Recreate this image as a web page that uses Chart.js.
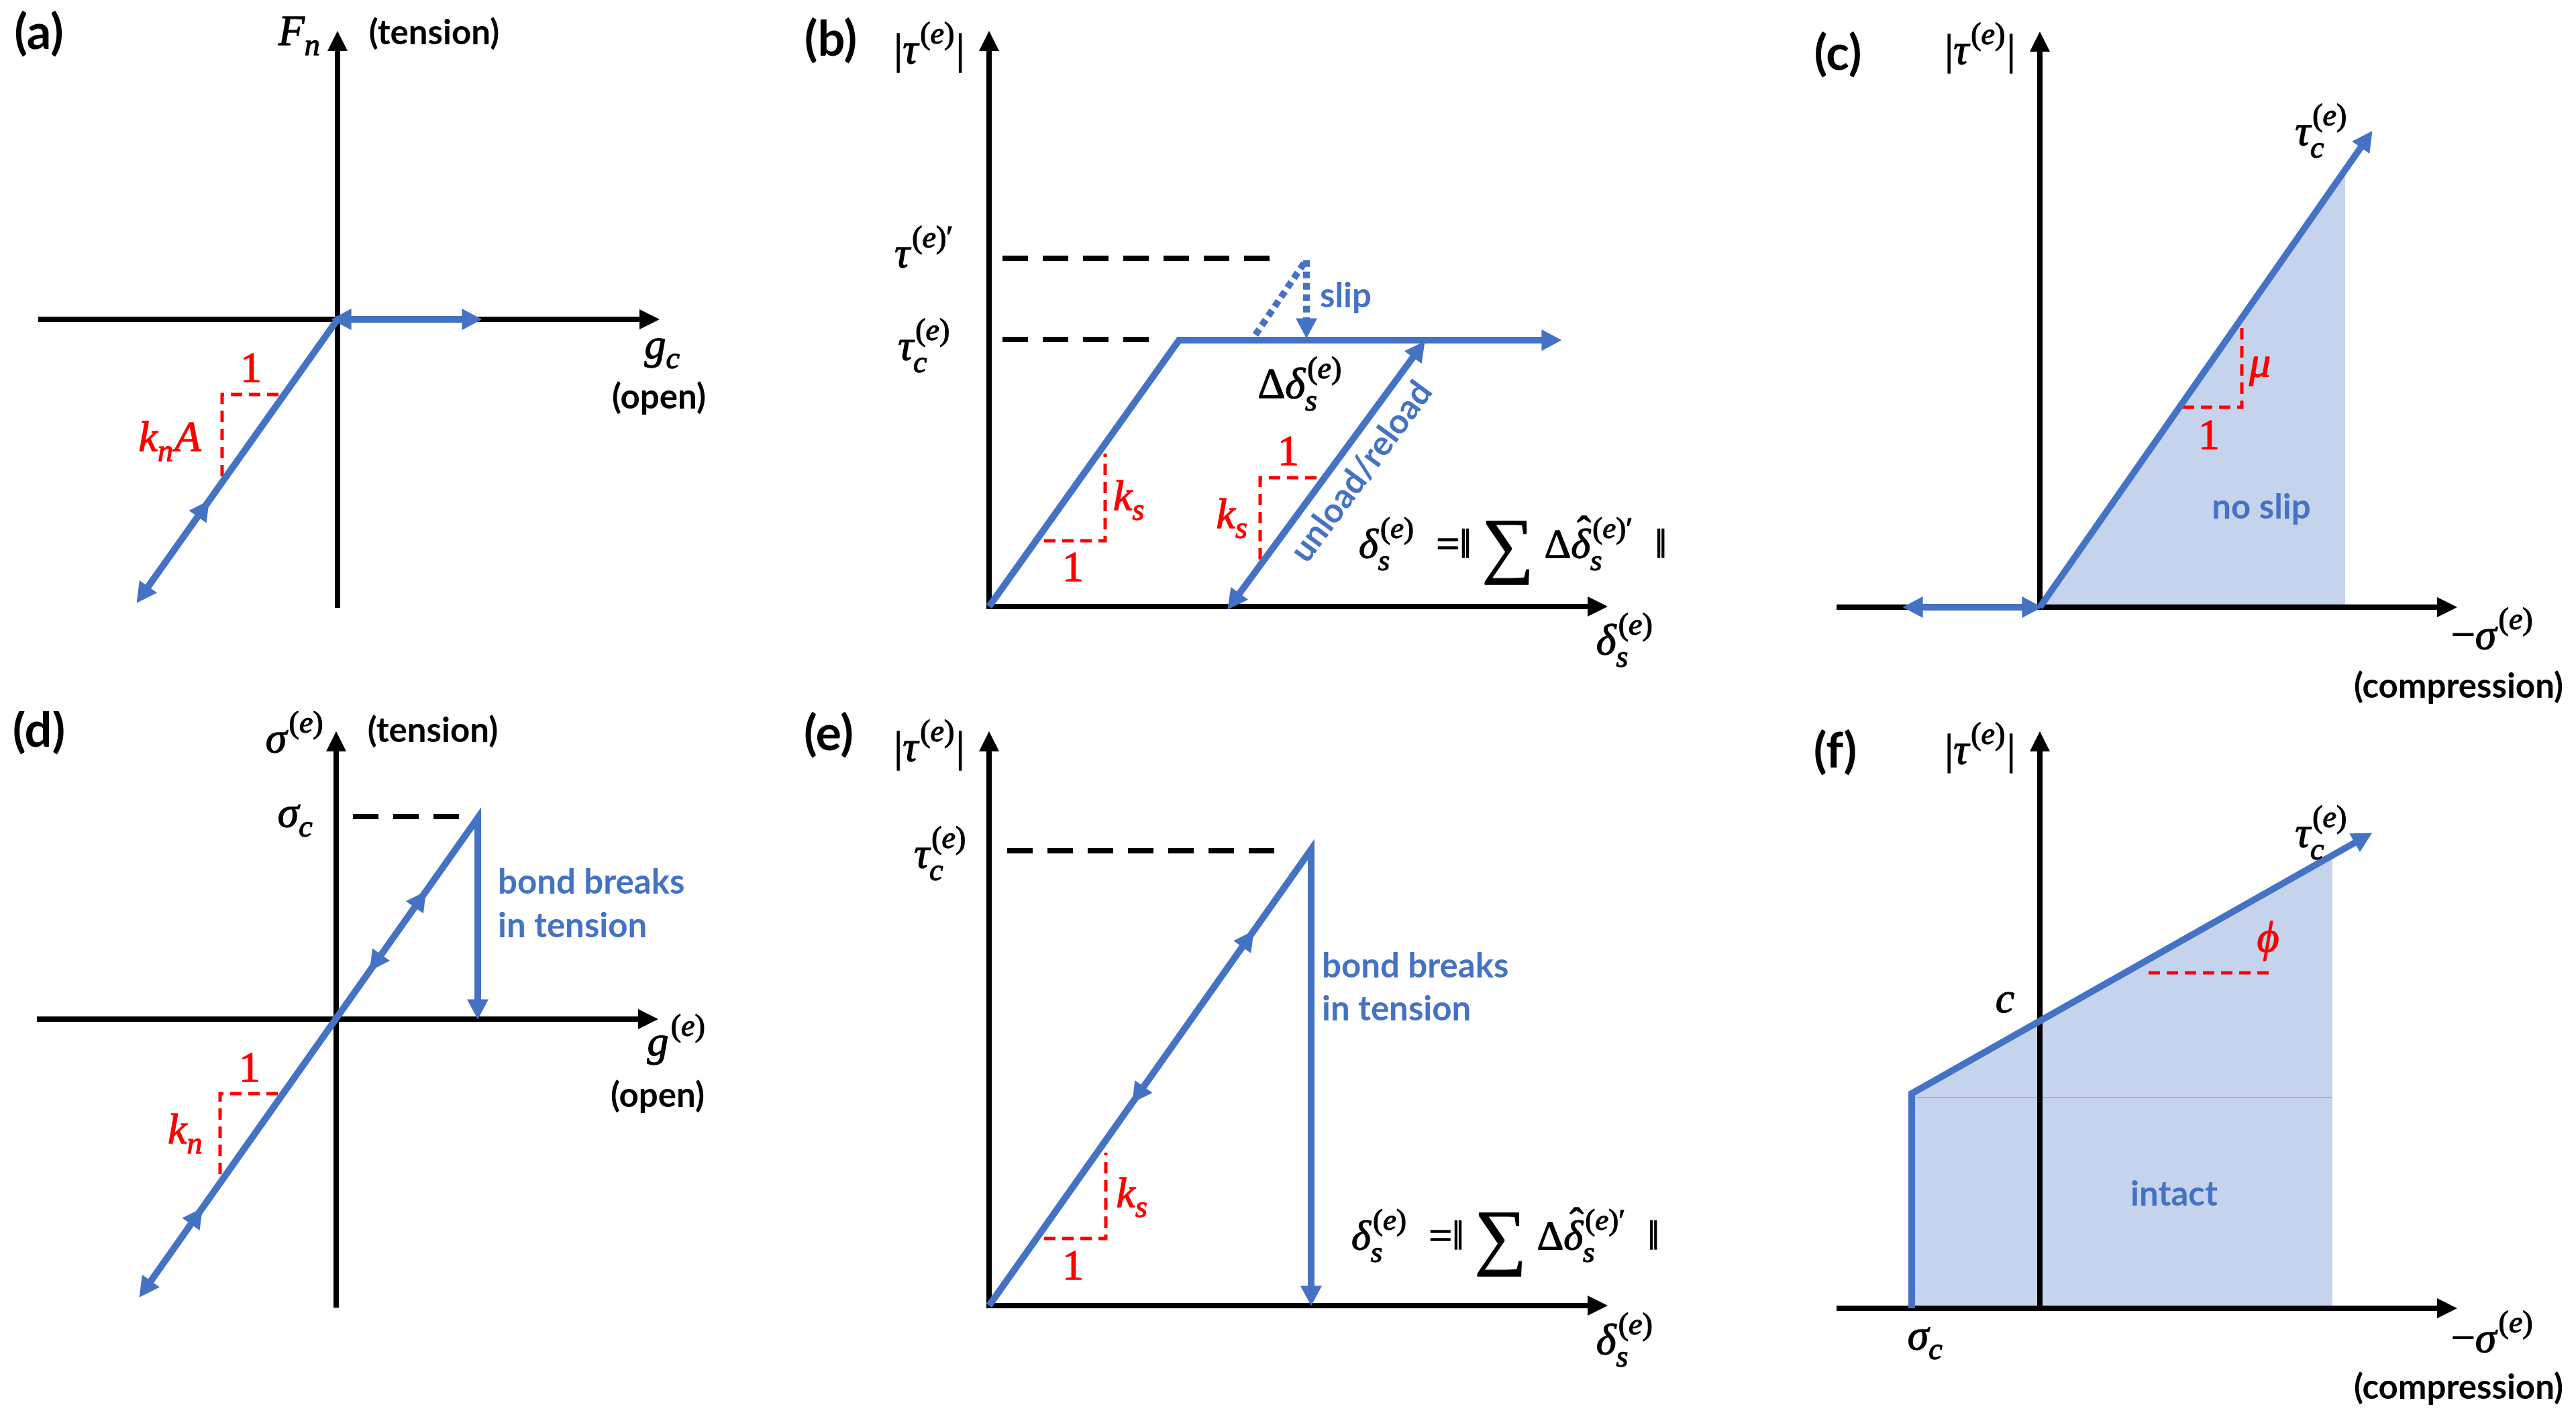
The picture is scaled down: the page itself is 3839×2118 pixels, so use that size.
<!DOCTYPE html>
<html>
<head>
<meta charset="utf-8">
<script src="https://cdn.jsdelivr.net/npm/chart.js@4.4.1/dist/chart.umd.min.js"></script>
<style>
html, body { margin: 0; padding: 0; background: #fff; }
#page { position: relative; width: 3839px; height: 2118px; overflow: hidden; background: #fff; }
#page canvas { position: absolute; }
</style>
</head>
<body>
<div id="page"></div>
<script>
const BLUE = "#4472C4", RED = "#FF0000", FILL = "#C6D3EC";
const SERIF = '"Liberation Serif", "DejaVu Serif", serif';
const TAG = "bold 72px Lato, sans-serif";
const NOTE = "bold 51px Lato, sans-serif";
const FORMULA = "δ_s^{(e)}  =‖ ∑ Δδ\u0302_s^{(e)′}  ‖";

// (a) contact force F_n against gap g_c  (units: px from the origin, y up)
const aXAxis = [[-446, 0], [472, 0]];
const aYAxis = [[0, -430], [0, 422]];
const aPath = [[-294, -415], [0, 0], [206, 0]];
const aSlope = [[-88, -112], [-172, -112], [-172, -241]];

// (b) shear with slip
const bAxes = [[914, 0], [0, 0], [0, 850]];
const bLoad = [[0, 0], [283, 397], [844, 397]];
const bUnload = [[361, 3], [644, 388]];
const bPeakLine = [[20, 519], [430, 519]];
const bCritLine = [[20, 398], [247, 398]];
const bSlip = [[397, 405], [473, 517], [473, 409]];
const bSlope1 = [[82, 98], [173, 98], [173, 228]];
const bSlope2 = [[488, 192], [404, 192], [404, 64]];

// (c) Coulomb envelope
const cXAxis = [[-303, 0], [614, 0]];
const cYAxis = [[0, 0], [0, 850]];
const cEnvelope = [[0, 0], [490, 702]];
const cNoSlip = [[0, 0], [455, 652]];
const cOpen = [[-195, 0], [-6, 0]];
const cSlope = [[213, 298], [301, 298], [301, 425]];

// (d) normal bond
const dXAxis = [[-446, 0], [472, 0]];
const dYAxis = [[0, -430], [0, 421]];
const dPath = [[-288, -407], [211, 300], [211, 9]];
const dCritLine = [[25, 302], [183, 302]];
const dSlope = [[-87, -111], [-173, -111], [-173, -239]];

// (e) shear bond
const eAxes = [[914, 0], [0, 0], [0, 848]];
const ePath = [[0, 0], [480, 680], [480, 9]];
const eCritLine = [[27, 678], [444, 678]];
const eSlope = [[82, 100], [174, 100], [174, 228]];

// (f) Mohr-Coulomb with tension cut-off
const fXAxis = [[-303, 0], [614, 0]];
const fYAxis = [[0, 0], [0, 852]];
const fEnvelope = [[-191, 0], [-191, 320], [487, 704]];
const fIntact = [[-191, 320], [436, 675]];
const fSeam = [[-191, 314], [436, 314]];
const fSlope = [[162, 500], [342, 500]];

const pts = arr => arr.map(([x, y]) => ({ x, y }));
const line = (arr, color, width, extra) => Object.assign({
    data: pts(arr), showLine: true, borderColor: color, borderWidth: width,
    pointRadius: 0, fill: false, tension: 0, borderJoinStyle: "miter", borderCapStyle: "butt"
}, extra);
const axis = arr => line(arr, "#000", 8, { order: 5 });
const curve = arr => line(arr, BLUE, 10, { order: 1 });
const dashed = arr => line(arr, "#000", 8, { borderDash: [38, 22], order: 4 });
const slope = arr => line(arr, RED, 5, { borderDash: [17, 10], order: 3 });
const dotted = arr => line(arr, BLUE, 10, { borderDash: [10, 7], order: 2 });
const region = arr => line(arr, "rgba(0,0,0,0)", 0, { fill: "origin", backgroundColor: FILL, order: 9 });

// ---- math text helpers
function glyphFont(ch, size) {
    return (/[A-Za-z\u03b1-\u03c9\u03d5]/.test(ch) ? "italic " : "") + size + "px " + SERIF;
}
function runWidth(ctx, s, size) {
    let w = 0;
    for (const ch of s) { ctx.font = glyphFont(ch, size); w += ctx.measureText(ch).width; }
    return w;
}
function mathLayout(ctx, str, size) {
    const ops = [];
    let x = 0, i = 0, prev = { x: 0, w: 0 };
    const grab = () => {
        if (str[i] === "{") { const j = str.indexOf("}", i); const g = str.slice(i + 1, j); i = j + 1; return g; }
        return str[i++];
    };
    while (i < str.length) {
        const ch = str[i];
        if (ch === "_" || ch === "^") {
            let sub = "", sup = "";
            while (str[i] === "_" || str[i] === "^") {
                const k = str[i++]; const g = grab();
                if (k === "_") sub = g; else sup = g;
            }
            const s2 = Math.round(size * 0.72);
            let w = 0;
            if (sub) { ops.push({ run: sub, x: x, dy: size * (sup ? 0.3 : 0.24), size: s2 }); w = runWidth(ctx, sub, s2); }
            if (sup) {
                const off = size * 0.05;
                ops.push({ run: sup, x: x + off, dy: -size * 0.46, size: s2 });
                w = Math.max(w, off + runWidth(ctx, sup, s2));
            }
            x += w + size * 0.04;
        } else if (ch === "\u0302") {
            ctx.font = size + "px " + SERIF;
            const hw = ctx.measureText("ˆ").width;
            ops.push({ run: "ˆ", x: prev.x + prev.w / 2 + size * 0.08 - hw / 2, dy: -size * 0.3, size: size });
            i++;
        } else if (ch === "∑") {
            const big = Math.round(size * 1.75);
            ctx.font = big + "px " + SERIF;
            const w = ctx.measureText("∑").width;
            ops.push({ run: "∑", x: x, dy: size * 0.28, size: big });
            x += w; i++;
        } else {
            const w = runWidth(ctx, ch, size);
            ops.push({ run: ch, x: x, dy: 0, size: size });
            prev = { x: x, w: w };
            x += w; i++;
        }
    }
    return { ops: ops, width: x };
}
function drawOp(ctx, op, x0, y) {
    let x = x0 + op.x;
    for (const ch of op.run) {
        ctx.font = glyphFont(ch, op.size);
        ctx.fillText(ch, x, y + op.dy);
        ctx.strokeText(ch, x, y + op.dy);
        x += ctx.measureText(ch).width;
    }
}

function arrowHead(ctx, tip, u, color, L, W) {
    const nx = -u[1], ny = u[0];
    ctx.beginPath();
    ctx.moveTo(tip[0], tip[1]);
    ctx.lineTo(tip[0] - u[0] * L + nx * W / 2, tip[1] - u[1] * L + ny * W / 2);
    ctx.lineTo(tip[0] - u[0] * L - nx * W / 2, tip[1] - u[1] * L - ny * W / 2);
    ctx.closePath();
    ctx.fillStyle = color;
    ctx.fill();
}

function sketchPlugin(spec) {
    return {
        id: "sketch",
        afterDatasetsDraw(chart) {
            const ctx = chart.ctx, sx = chart.scales.x, sy = chart.scales.y;
            const px = p => [sx.getPixelForValue(p.x), sy.getPixelForValue(p.y)];
            ctx.save();
            spec.heads.forEach(h => {
                const ds = chart.data.datasets[h.ds];
                const A = px(ds.data[h.a]), B = px(ds.data[h.b]);
                const t = h.t === undefined ? 1 : h.t;
                const dx = B[0] - A[0], dy = B[1] - A[1], len = Math.hypot(dx, dy);
                const u = [dx / len, dy / len];
                const black = ds.borderColor === "#000";
                const L = 30, W = black ? 30 : 32;
                const ext = t === 1 ? ds.borderWidth * L / W : 0;
                const tip = [A[0] + dx * t + u[0] * ext, A[1] + dy * t + u[1] * ext];
                arrowHead(ctx, tip, u, ds.borderColor, L, W);
            });
            spec.texts.forEach(t => {
                const [x, y] = px({ x: t.at[0], y: t.at[1] });
                ctx.fillStyle = t.c || "#000";
                ctx.strokeStyle = t.c || "#000";
                ctx.lineWidth = 1.3;
                ctx.lineJoin = "round";
                if (t.m !== undefined) {
                    const size = t.size || 64;
                    const lay = mathLayout(ctx, t.m, size);
                    const x0 = t.align === "left" ? x : t.align === "right" ? x - lay.width : x - lay.width / 2;
                    ctx.textAlign = "left";
                    ctx.textBaseline = "alphabetic";
                    lay.ops.forEach(op => drawOp(ctx, op, x0, y));
                } else {
                    ctx.font = t.f || NOTE;
                    ctx.textAlign = t.align || "center";
                    ctx.textBaseline = "middle";
                    if (t.along !== undefined) {
                        const d = chart.data.datasets[t.along].data;
                        const A = px(d[0]), B = px(d[d.length - 1]);
                        ctx.save();
                        ctx.translate(x, y);
                        ctx.rotate(Math.atan2(B[1] - A[1], B[0] - A[0]));
                        ctx.fillText(t.s, 0, 0);
                        ctx.restore();
                    } else {
                        ctx.fillText(t.s, x, y);
                    }
                }
            });
            ctx.restore();
        }
    };
}

const panels = [
    {
        box: [0, 0, 1150, 1060], origin: [503, 476],
        sets: [axis(aXAxis), axis(aYAxis), curve(aPath), slope(aSlope)],
        heads: [{ ds: 0, a: 0, b: 1 }, { ds: 1, a: 0, b: 1 }, { ds: 2, a: 1, b: 0 }, { ds: 2, a: 2, b: 1 },
                { ds: 2, a: 1, b: 2 }, { ds: 2, a: 0, b: 1, t: 0.35 }],
        texts: [
            { s: "(a)", at: [-445, 426], f: TAG },
            { m: "F_n", at: [-56, 409] },
            { s: "(tension)", at: [144, 426] },
            { m: "g_c", at: [485, -58] },
            { s: "(open)", at: [479, -117] },
            { m: "1", at: [-129, -93], c: RED },
            { m: "k_nA", at: [-250, -196], c: RED }
        ]
    },
    {
        box: [1150, 0, 2650, 1060], origin: [1474, 904],
        sets: [axis(bAxes), curve(bLoad), curve(bUnload), dashed(bPeakLine), dashed(bCritLine),
               dotted(bSlip), slope(bSlope1), slope(bSlope2)],
        heads: [{ ds: 0, a: 1, b: 0 }, { ds: 0, a: 1, b: 2 }, { ds: 1, a: 1, b: 2 }, { ds: 2, a: 1, b: 0 },
                { ds: 2, a: 0, b: 1 }, { ds: 5, a: 1, b: 2 }],
        texts: [
            { s: "(b)", at: [-236, 844], f: TAG },
            { m: "|τ^{(e)}|", at: [-89, 810] },
            { m: "τ^{(e)′}", at: [-96, 506] },
            { m: "τ_c^{(e)}", at: [-96, 368] },
            { s: "slip", at: [493, 462], c: BLUE, align: "left" },
            { m: "Δδ_s^{(e)}", at: [464, 311] },
            { m: "1", at: [125, 38], c: RED },
            { m: "k_s", at: [185, 144], c: RED, align: "left" },
            { m: "1", at: [446, 211], c: RED },
            { m: "k_s", at: [363, 117], c: RED },
            { s: "unload/reload", at: [555, 201], c: BLUE, along: 2 },
            { m: FORMULA, at: [551, 73], size: 62, align: "left" },
            { m: "δ_s^{(e)}", at: [948, -71] }
        ]
    },
    {
        box: [2650, 0, 3839, 1060], origin: [3040, 905],
        sets: [region(cNoSlip), axis(cXAxis), axis(cYAxis), curve(cEnvelope), curve(cOpen), slope(cSlope)],
        heads: [{ ds: 1, a: 0, b: 1 }, { ds: 2, a: 0, b: 1 }, { ds: 3, a: 0, b: 1 }, { ds: 4, a: 1, b: 0 },
                { ds: 4, a: 0, b: 1 }],
        texts: [
            { s: "(c)", at: [-301, 824], f: TAG },
            { m: "|τ^{(e)}|", at: [-89, 810] },
            { m: "τ_c^{(e)}", at: [420, 689] },
            { m: "μ", at: [328, 344], c: RED },
            { m: "1", at: [252, 236], c: RED },
            { s: "no slip", at: [330, 148], c: BLUE },
            { m: "−σ^{(e)}", at: [675, -62] },
            { s: "(compression)", at: [624, -119] }
        ]
    },
    {
        box: [0, 1060, 1150, 2118], origin: [501, 1519],
        sets: [axis(dXAxis), axis(dYAxis), curve(dPath), dashed(dCritLine), slope(dSlope)],
        heads: [{ ds: 0, a: 0, b: 1 }, { ds: 1, a: 0, b: 1 }, { ds: 2, a: 1, b: 0 }, { ds: 2, a: 1, b: 2 },
                { ds: 2, a: 0, b: 1, t: 0.846 }, { ds: 2, a: 1, b: 0, t: 0.323 }, { ds: 2, a: 0, b: 1, t: 0.178 }],
        texts: [
            { s: "(d)", at: [-443, 429], f: TAG },
            { m: "σ^{(e)}", at: [-61, 398] },
            { s: "(tension)", at: [144, 429] },
            { m: "σ_c", at: [-60, 287] },
            { s: "bond breaks", at: [241, 203], c: BLUE, align: "left" },
            { s: "in tension", at: [241, 138], c: BLUE, align: "left" },
            { m: "1", at: [-129, -93], c: RED },
            { m: "k_n", at: [-224, -185], c: RED },
            { m: "g^{(e)}", at: [508, -54] },
            { s: "(open)", at: [479, -115] }
        ]
    },
    {
        box: [1150, 1060, 2650, 2118], origin: [1474, 1946],
        sets: [axis(eAxes), curve(ePath), dashed(eCritLine), slope(eSlope)],
        heads: [{ ds: 0, a: 1, b: 0 }, { ds: 0, a: 1, b: 2 }, { ds: 1, a: 1, b: 2 },
                { ds: 1, a: 0, b: 1, t: 0.822 }, { ds: 1, a: 1, b: 0, t: 0.556 }],
        texts: [
            { s: "(e)", at: [-239, 851], f: TAG },
            { m: "|τ^{(e)}|", at: [-89, 812] },
            { m: "τ_c^{(e)}", at: [-72, 653] },
            { s: "bond breaks", at: [496, 505], c: BLUE, align: "left" },
            { s: "in tension", at: [496, 441], c: BLUE, align: "left" },
            { m: "k_s", at: [214, 147], c: RED },
            { m: "1", at: [125, 39], c: RED },
            { m: FORMULA, at: [540, 84], size: 62, align: "left" },
            { m: "δ_s^{(e)}", at: [948, -72] }
        ]
    },
    {
        box: [2650, 1060, 3839, 2118], origin: [3040, 1950],
        sets: [region(fIntact), line(fSeam, "rgba(68,114,196,0.3)", 2, { order: 8 }), axis(fXAxis), axis(fYAxis),
               curve(fEnvelope), slope(fSlope)],
        heads: [{ ds: 2, a: 0, b: 1 }, { ds: 3, a: 0, b: 1 }, { ds: 4, a: 1, b: 2 }],
        texts: [
            { s: "(f)", at: [-305, 829], f: TAG },
            { m: "|τ^{(e)}|", at: [-89, 812] },
            { m: "τ_c^{(e)}", at: [420, 688] },
            { m: "ϕ", at: [340, 532], c: RED },
            { m: "c", at: [-52, 441] },
            { s: "intact", at: [200, 169], c: BLUE },
            { m: "σ_c", at: [-170, -61] },
            { m: "−σ^{(e)}", at: [675, -65] },
            { s: "(compression)", at: [624, -119] }
        ]
    }
];

const page = document.getElementById("page");
panels.forEach(p => {
    const [l, t, r, b] = p.box, [ox, oy] = p.origin;
    const canvas = document.createElement("canvas");
    canvas.width = r - l;
    canvas.height = b - t;
    canvas.style.left = l + "px";
    canvas.style.top = t + "px";
    canvas.style.width = (r - l) + "px";
    canvas.style.height = (b - t) + "px";
    page.appendChild(canvas);
    new Chart(canvas.getContext("2d"), {
        type: "scatter",
        data: { datasets: p.sets },
        options: {
            responsive: false,
            animation: false,
            devicePixelRatio: 1,
            events: [],
            layout: { padding: 0 },
            plugins: { legend: { display: false }, tooltip: { enabled: false } },
            scales: {
                x: { type: "linear", display: false, min: l - ox, max: r - ox },
                y: { type: "linear", display: false, min: oy - b, max: oy - t }
            }
        },
        plugins: [sketchPlugin(p)]
    });
});
</script>
</body>
</html>
